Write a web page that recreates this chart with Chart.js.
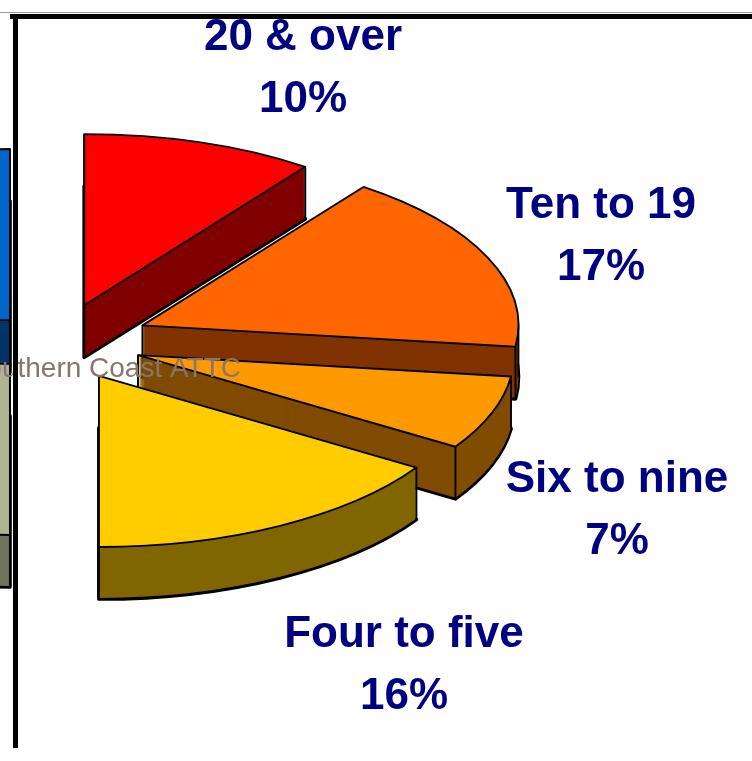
<!DOCTYPE html>
<html>
<head>
<meta charset="utf-8">
<script src="https://cdn.jsdelivr.net/npm/chart.js@4.4.0/dist/chart.umd.min.js"></script>
<style>
  html, body { margin: 0; padding: 0; background: #fff; }
  body { width: 752px; height: 761px; position: relative; overflow: hidden; }
  #pie { position: absolute; left: -642px; top: -358px; }
  .rule { position: absolute; background: #000; }
</style>
</head>
<body>
<canvas id="pie" width="1400" height="1400"></canvas>
<div class="rule" style="left:0;top:12px;width:752px;height:1px;background:#999"></div>
<div class="rule" style="left:10px;top:14px;width:742px;height:5px"></div>
<div class="rule" style="left:13px;top:14px;width:5px;height:734px"></div>
<script>
// firm size bands, share of firms (%)
const sizeBands = ['20 & over', 'Ten to 19', 'Six to nine', 'Four to five', 'Two to three', 'One'];
const shares = [10, 17, 7, 16, 25, 25];
const topColors = ['#FF0000', '#FF6600', '#FF9900', '#FFCC00', '#B1B493', '#0066CC'];
const sideColors = ['#800000', '#803300', '#804C00', '#806600', '#70735A', '#003366'];

// layout (page pixels)
const PAGE_X = -642, PAGE_Y = -358;   // where the canvas sits on the page
const labelSpots = [[303, 50], [601, 218], [617, 492], [404, 647], [-300, 700], [-300, 100]];
const LINE_GAP = 62;
const WATERMARK = 'Southern Coast ATTC';
const TILT = 0.455, DEPTH = 52, RADIUS = 376, LW = 1.9;
const EXPLODE = [85, 92, 85, 85, 68, 68];

const pie3d = {
  id: 'pie3d',
  beforeDatasetsDraw(chart) {
    const ctx = chart.ctx;
    const arcs = chart.getDatasetMeta(0).data;
    const mid = a => (a.startAngle + a.endAngle) / 2;

    const place = (a, i, drop) => {
      const m = mid(a);
      ctx.translate(a.x, a.y + drop);
      ctx.scale(1, TILT);
      ctx.translate(-a.x + Math.cos(m) * EXPLODE[i], -a.y + Math.sin(m) * EXPLODE[i]);
    };
    const outline = (a, i, drop) => {
      ctx.save();
      place(a, i, drop);
      ctx.beginPath();
      ctx.moveTo(a.x, a.y);
      ctx.arc(a.x, a.y, a.outerRadius, a.startAngle, a.endAngle);
      ctx.closePath();
      ctx.restore();
    };
    const paint = (a, i, drop, colour) => {
      const own = a.options;
      a.options = Object.assign({}, own, { backgroundColor: colour });
      ctx.save();
      place(a, i, drop);
      a.draw(ctx);
      ctx.restore();
      a.options = own;
    };
    const point = (a, i, ang, r, drop) => {
      const m = mid(a);
      const ux = a.x + Math.cos(m) * EXPLODE[i] + r * Math.cos(ang);
      const uy = Math.sin(m) * EXPLODE[i] + r * Math.sin(ang);
      return [ux, a.y + drop + uy * TILT];
    };

    // side walls, back to front
    const order = arcs.map((a, i) => i).sort((p, q) => Math.sin(mid(arcs[p])) - Math.sin(mid(arcs[q])));
    ctx.lineJoin = 'round';
    for (const i of order) {
      const a = arcs[i];
      paint(a, i, DEPTH, sideColors[i]);
      outline(a, i, DEPTH);
      ctx.strokeStyle = '#000';
      ctx.lineWidth = LW * 2;
      ctx.stroke();
      for (let d = DEPTH - 1; d >= 1; d--) paint(a, i, d, sideColors[i]);

      const corners = [[0, 0], [a.startAngle, a.outerRadius], [a.endAngle, a.outerRadius]];
      for (const k of [0, Math.PI, 2 * Math.PI]) {
        if (k > a.startAngle && k < a.endAngle) corners.push([k, a.outerRadius]);
      }
      ctx.lineWidth = LW;
      for (const [ang, r] of corners) {
        const [x0, y0] = point(a, i, ang, r, 0);
        const [x1, y1] = point(a, i, ang, r, DEPTH);
        ctx.beginPath();
        ctx.moveTo(x0, y0);
        ctx.lineTo(x1, y1);
        ctx.stroke();
      }
    }

    // top faces
    arcs.forEach((a, i) => {
      paint(a, i, 0, topColors[i]);
      outline(a, i, 0);
      ctx.strokeStyle = '#000';
      ctx.lineWidth = LW;
      ctx.stroke();
    });
    return false;
  },
  afterDraw(chart) {
    const ctx = chart.ctx;
    const total = shares.reduce((s, v) => s + v, 0);
    ctx.save();
    ctx.fillStyle = '#000080';
    ctx.font = 'bold 44px "Liberation Sans", Arial, sans-serif';
    ctx.textAlign = 'center';
    ctx.textBaseline = 'alphabetic';
    sizeBands.forEach((name, i) => {
      const [x, y] = labelSpots[i];
      ctx.fillText(name, x - PAGE_X, y - PAGE_Y);
      ctx.fillText(Math.round(shares[i] / total * 100) + '%', x - PAGE_X, y + LINE_GAP - PAGE_Y);
    });
    ctx.font = '28px "Liberation Sans", Arial, sans-serif';
    ctx.fillStyle = '#85766F';
    ctx.textAlign = 'right';
    ctx.fillText(WATERMARK, 241 - PAGE_X, 377 - PAGE_Y);
    ctx.restore();
  }
};

new Chart(document.getElementById('pie'), {
  type: 'pie',
  data: {
    labels: sizeBands,
    datasets: [{ data: shares, backgroundColor: topColors, borderWidth: 0 }]
  },
  options: {
    responsive: false,
    animation: false,
    radius: RADIUS,
    events: [],
    plugins: { legend: { display: false }, tooltip: { enabled: false } }
  },
  plugins: [pie3d]
});
</script>
</body>
</html>
